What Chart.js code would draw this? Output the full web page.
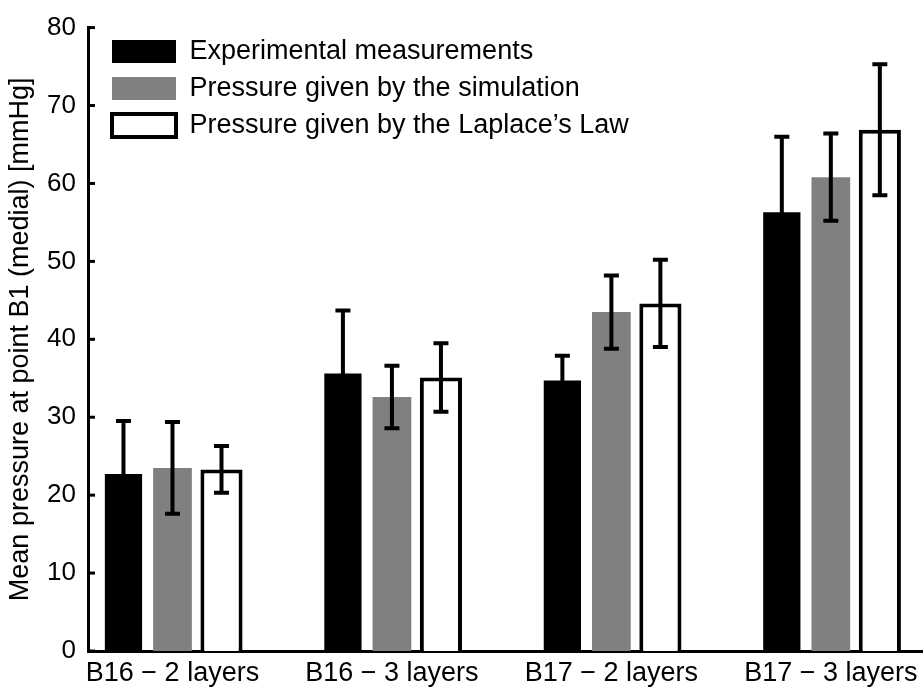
<!DOCTYPE html>
<html>
<head>
<meta charset="utf-8">
<title>Mean pressure at point B1</title>
<script src="https://cdn.jsdelivr.net/npm/chart.js@4/dist/chart.umd.min.js"></script>
<style>
	body {
		margin: 0;
		background: #fff;
	}
	#wrap {
		width: 923px;
		height: 693px;
	}
</style>
</head>
<body>
<div id="wrap"><canvas id="grafico" width="923" height="693"></canvas></div>
<script>
const categorias = [
	"B16 \u2212 2 layers",
	"B16 \u2212 3 layers",
	"B17 \u2212 2 layers",
	"B17 \u2212 3 layers",
];

const experimental = [22.7, 35.6, 34.7, 56.3];
const experimentalErr = [6.8, 8.1, 3.2, 9.7];

const simulacao = [23.5, 32.6, 43.5, 60.8];
const simulacaoErr = [5.9, 4.0, 4.7, 5.6];

const laplace = [23.3, 35.1, 44.6, 66.9];
const laplaceErr = [3.0, 4.4, 5.6, 8.4];

const yTicks = [0, 10, 20, 30, 40, 50, 60, 70, 80];

const fonte = "'Liberation Sans', Arial, Helvetica, sans-serif";

// monta os pontos {x, y} a partir das listas
function pontos(valores) {
	return valores.map((v, i) => ({ x: i + 1, y: v }));
}

// barras de erro desenhadas por cima das barras
const errorBars = {
	id: "errorBars",
	afterDatasetsDraw(chart) {
		const ctx = chart.ctx;
		const yScale = chart.scales.y;
		chart.data.datasets.forEach((ds, i) => {
			const meta = chart.getDatasetMeta(i);
			meta.data.forEach((bar, j) => {
				const v = ds.data[j].y;
				const e = ds.erros[j];
				const yTop = yScale.getPixelForValue(v + e);
				const yBot = yScale.getPixelForValue(v - e);
				ctx.save();
				ctx.strokeStyle = "#000";
				ctx.lineWidth = 4;
				ctx.beginPath();
				ctx.moveTo(bar.x, yTop);
				ctx.lineTo(bar.x, yBot);
				ctx.moveTo(bar.x - 7.5, yTop);
				ctx.lineTo(bar.x + 7.5, yTop);
				ctx.moveTo(bar.x - 7.5, yBot);
				ctx.lineTo(bar.x + 7.5, yBot);
				ctx.stroke();
				ctx.restore();
			});
		});
	},
};

// ticks do eixo y para dentro, como no matlab
const ticksParaDentro = {
	id: "ticksParaDentro",
	afterDraw(chart) {
		const ctx = chart.ctx;
		const yScale = chart.scales.y;
		const x0 = chart.chartArea.left;
		ctx.save();
		ctx.strokeStyle = "#000";
		ctx.lineWidth = 3;
		yScale.ticks.forEach((t) => {
			const y = yScale.getPixelForValue(t.value);
			ctx.beginPath();
			ctx.moveTo(x0, y);
			ctx.lineTo(x0 + 7, y);
			ctx.stroke();
		});
		ctx.restore();
	},
};

// legenda vertical volta pro topo 0 no layout, entao posiciona aqui
const moverLegenda = {
	id: "moverLegenda",
	afterLayout(chart) {
		if (chart.legend) {
			chart.legend.left = chart.chartArea.left + 14;
			chart.legend.top = 28;
		}
	},
};

const config = {
	type: "bar",
	data: {
		datasets: [
			{
				label: "Experimental measurements",
				data: pontos(experimental),
				erros: experimentalErr,
				backgroundColor: "#000000",
				borderWidth: 0,
				barPercentage: 0.76,
			},
			{
				label: "Pressure given by the simulation",
				data: pontos(simulacao),
				erros: simulacaoErr,
				backgroundColor: "#808080",
				borderWidth: 0,
				barPercentage: 0.79,
			},
			{
				label: "Pressure given by the Laplace\u2019s Law",
				data: pontos(laplace),
				erros: laplaceErr,
				backgroundColor: "#ffffff",
				borderColor: "#000000",
				borderWidth: 4,
				barPercentage: 0.86,
			},
		],
	},
	options: {
		responsive: false,
		animation: false,
		devicePixelRatio: 1,
		categoryPercentage: 0.67,
		layout: {
			padding: { top: 20, left: 0, right: 0, bottom: 0 },
		},
		plugins: {
			tooltip: { enabled: false },
			legend: {
				position: "chartArea",
				align: "start",
				labels: {
					color: "#000",
					boxWidth: 64,
					boxHeight: 23,
					padding: 10,
					font: { family: fonte, size: 27 },
				},
			},
		},
		scales: {
			x: {
				type: "linear",
				offset: false,
				min: 0.615,
				max: 4.42,
				grid: { display: false, drawTicks: false, offset: false },
				border: { display: true, color: "#000", width: 3 },
				afterBuildTicks(scale) {
					scale.ticks = categorias.map((c, i) => ({ value: i + 1 }));
				},
				afterFit(scale) {
					scale.height = 42;
					scale.paddingLeft = 0;
					scale.paddingRight = 0;
				},
				ticks: {
					color: "#000",
					padding: 6,
					maxRotation: 0,
					autoSkip: false,
					font: { family: fonte, size: 27 },
					callback: (v) => categorias[v - 1],
				},
			},
			y: {
				min: 0,
				max: 80,
				grid: { display: false, drawTicks: false },
				border: { display: true, color: "#000", width: 3 },
				afterBuildTicks(scale) {
					scale.ticks = yTicks.map((v) => ({ value: v }));
				},
				afterFit(scale) {
					scale.width = 88;
				},
				ticks: {
					color: "#000",
					padding: 12,
					font: { family: fonte, size: 26 },
				},
				title: {
					display: true,
					text: "Mean pressure at point B1 (medial) [mmHg]",
					color: "#000",
					padding: { top: 4, bottom: 0 },
					font: { family: fonte, size: 27 },
				},
			},
		},
	},
	plugins: [errorBars, ticksParaDentro, moverLegenda],
};

const grafico = new Chart(document.getElementById("grafico"), config);
</script>
</body>
</html>
